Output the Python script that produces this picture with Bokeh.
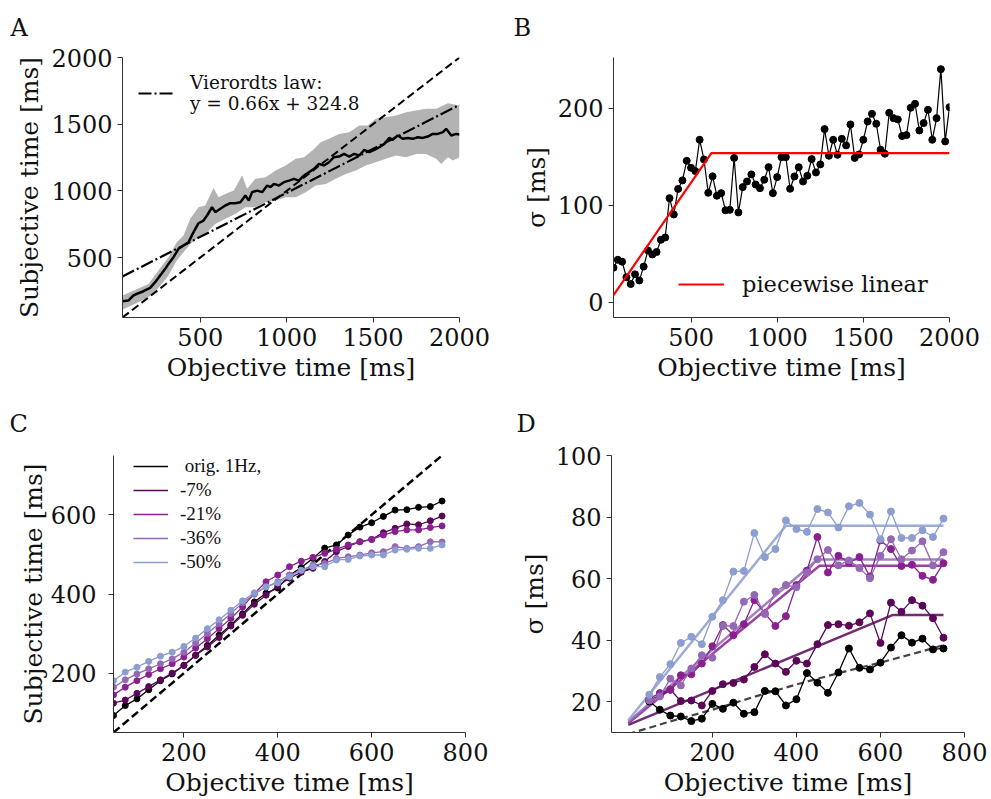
from bokeh.plotting import figure
from bokeh.layouts import column, row
from bokeh.models import Legend, LegendItem, FixedTicker, Range1d
from bokeh.core.properties import value
from bokeh.embed import file_html
from bokeh.resources import INLINE

# ---------------- data ----------------
# Panel A: mean subjective time with spread band
A_x = [50, 84, 113, 142, 171, 210, 239, 268, 297, 316, 345, 374, 403, 432, 461, 490, 519, 539, 568, 587,
       616, 645, 674, 703, 732, 761, 781, 800, 829, 858, 887, 907, 926, 955, 984, 1013, 1042, 1071, 1100, 1129,
       1158, 1187, 1216, 1245, 1274, 1303, 1332, 1362, 1391, 1420, 1449, 1478, 1507, 1536, 1565, 1594, 1613,
       1642, 1671, 1700, 1729, 1758, 1787, 1816, 1845, 1875, 1904, 1923, 1952, 1981, 2000]
A_y = [172, 177, 215, 232, 247, 272, 315, 365, 415, 452, 502, 565, 590, 615, 690, 757, 777, 815, 877, 840,
       865, 890, 907, 907, 915, 965, 927, 990, 1002, 990, 1040, 1027, 1052, 1040, 1065, 1077, 1090, 1077, 1115, 1140,
       1165, 1202, 1190, 1215, 1252, 1257, 1277, 1257, 1277, 1265, 1307, 1290, 1307, 1327, 1352, 1397, 1382,
       1415, 1390, 1397, 1390, 1402, 1397, 1407, 1427, 1427, 1440, 1465, 1415, 1427, 1422]
A_up_x = [50, 122, 200, 258, 316, 364, 403, 442, 490, 529, 577, 606, 645, 694, 742, 771, 819, 878, 936, 994,
          1052, 1100, 1149, 1197, 1245, 1303, 1362, 1420, 1468, 1516, 1574, 1633, 1691, 1749, 1807, 1865, 1933, 2000]
A_up_y = [215, 257, 302, 402, 502, 615, 665, 790, 877, 890, 1022, 952, 977, 1002, 1115, 1015, 1090, 1102, 1152, 1190,
          1240, 1252, 1302, 1365, 1390, 1427, 1440, 1490, 1490, 1540, 1552, 1565, 1590, 1602, 1615, 1615, 1657, 1640]
A_lo_x = [50, 122, 200, 258, 316, 364, 403, 442, 490, 539, 587, 645, 703, 761, 819, 878, 936, 994, 1052, 1110,
          1168, 1226, 1284, 1342, 1400, 1458, 1516, 1574, 1633, 1691, 1749, 1807, 1865, 1894, 1933, 1962, 2000]
A_lo_y = [110, 152, 202, 272, 365, 477, 540, 602, 652, 690, 752, 790, 827, 877, 877, 915, 927, 952, 952, 990,
          1040, 1052, 1090, 1127, 1152, 1190, 1215, 1240, 1265, 1252, 1277, 1277, 1240, 1202, 1252, 1227, 1252]
A_ident = [50, 2000]
A_vier_x = [50, 2000]
vier_slope, vier_icpt = 0.66, 324.8

# Panel B: sigma vs objective time
B_x = list(range(50, 2001, 25))
B_y = [35.8, 44, 42, 26, 19, 29, 22.7, 37, 53.6, 49.5, 52, 64.6, 67, 107.5, 90.7, 117, 125.8, 146, 138.8, 135.4,
       167.7, 147.4, 113, 130, 110, 112.7, 95, 95.5, 149,
       92.8, 118.9, 124.7, 132, 121.6, 117.8, 126.5, 139.5, 112.7, 129.2, 149.8, 149.8, 117.2, 129.9, 139.5,
       124.7, 130.6, 147.8, 134, 142.3, 178.7, 151.2, 167.7, 152.2, 168.7, 161.9,
       183.5, 149, 152.6, 167.7, 186.6, 194.5, 184.2, 157.4, 153.3, 195.5, 190, 188.7, 171.5, 172.5, 200.7,
       204.8, 177.3, 184.9, 198.6, 167.7, 190, 240.5, 166, 201.3]
B_fit_x = [50, 618, 2000]
B_fit_y = [7.5, 154, 154]

# Panel C: subjective time for tempo-changed versions
C_x = list(range(50, 751, 25))
C_labels = ["\u00a0orig. 1Hz,", "-7%", "-21%", "-36%", "-50%"]
C_colors = ["#000000", "#5a0757", "#8a2090", "#9468b4", "#8c9dcf"]
C_orig = [93, 118, 135, 158, 181, 198, 220, 245, 270, 296, 322, 350, 380, 402, 415, 447, 467, 490, 516, 524,
          549, 569, 580, 596, 612, 613, 619, 621, 635]
C_m7 = [124, 132, 149, 166, 183, 200, 219, 245, 266, 290, 319, 346, 374, 397, 420, 440, 455, 465, 482, 507,
        520, 532, 538, 555, 566, 577, 575, 585, 597]
C_m21 = [145, 164.5, 181, 196.6, 211, 223.7, 240.6, 263, 287, 312.5, 338, 367.4, 401, 431, 448, 469, 483, 492.6,
         502.7, 513, 524, 532, 538, 549, 557.7, 562, 562, 568, 572]
C_m36 = [164.5, 183, 198, 211, 223.7, 236, 253, 276, 300, 325, 350.5, 377.6, 399.6, 418, 431, 448, 460, 473, 477,
         490, 494, 498.5, 504, 507, 519.7, 515, 519.7, 532, 531.5]
C_m50 = [181, 202.5, 215, 229.6, 243, 253, 267.6, 288.8, 312.5, 335, 359, 382.7, 403, 418, 428, 443.5, 460, 469,
         469, 486, 487.5, 496, 498.5, 498.5, 511, 513, 515.4, 515.4, 524]
C_ident = [50, 750]

# Panel D: sigma for tempo-changed versions, with fits
D_x = list(range(50, 751, 25))
D_orig = [20.1, 17.4, 15.5, 15.2, 13.7, 14.5, 19.3, 17.7, 19.7, 16.1, 16.6, 23.5, 23.4, 18.8, 20.8, 29.3, 26.2,
          22.9, 29.5, 37.3, 31, 30.5, 32.7, 37.6, 41.6, 39.2, 40.5, 37, 37.3]
D_m7 = [20.5, 22, 23.9, 20.2, 20.4, 18.8, 23.5, 25.7, 26.1, 27.2, 31.3, 35.4, 32.4, 29.7, 33.3, 32.4, 38.7, 44.9,
        45.2, 44.7, 45.8, 48.7, 39.1, 52.2, 49.2, 53, 51.2, 47.1, 40.8]
D_m21 = [21, 22.8, 23.9, 28.6, 28.9, 32.4, 38, 44.9, 41.6, 45.2, 53, 48.7, 44.6, 47.8, 57.9, 62.6, 73.5, 62, 67.4,
         65.2, 67, 60.7, 72.4, 69.6, 64.1, 64.5, 60.9, 59.6, 65]
D_m36 = [20.4, 21.7, 27.5, 25.3, 30.8, 35.1, 34.3, 44.6, 44.6, 52.5, 54.7, 48.5, 55.8, 57.9, 57.2, 62, 66.3, 69.3,
         64.3, 65.9, 63.4, 60.1, 67.4, 72.8, 66.3, 69.1, 72.1, 64.3, 68.6]
D_m50 = [22.3, 28, 32.2, 39.1, 41.1, 38.7, 47.6, 53, 62.3, 62.5, 74.8, 67, 69.6, 78.9, 76.1, 75.2, 82.6, 81.5,
         76.6, 83.5, 84.6, 80.8, 72.8, 81.8, 73.2, 73.2, 75.7, 73.5, 79.5]
D_fit_orig_x = [0, 100, 200, 300, 400, 500, 600, 700, 750]
D_fit_orig_y = [9.5, 13.6, 17.4, 21.6, 25.6, 29.3, 32.7, 36.4, 38.4]
D_fit_m7_x, D_fit_m7_y = [0, 630, 750], [12.5, 48.2, 48.2]
D_fit_m21_x, D_fit_m21_y = [0, 455, 750], [13.0, 64.2, 64.2]
D_fit_m36_x, D_fit_m36_y = [0, 450, 750], [13.5, 66.2, 66.2]
D_fit_m50_x, D_fit_m50_y = [0, 375, 750], [14.0, 77.2, 77.2]

# panel letters
top_letters = ["A", "B"]
bottom_letters = ["C", "D"]

# ---------------- styling helpers ----------------
SERIF = "DejaVu Serif"
INK = "#111111"
SPINE = "#333333"


def make_fig(w, h, left, right, top, bottom, xr, yr):
    p = figure(width=w, height=h, min_border_left=left, min_border_right=right,
               min_border_top=top, min_border_bottom=bottom,
               x_range=Range1d(*xr), y_range=Range1d(*yr), title=None,
               output_backend="svg", toolbar_location=None)
    p.outline_line_color = None
    p.grid.visible = False
    p.background_fill_color = "white"
    p.border_fill_color = "white"
    return p


def make_strip(h, letters, lx, ly):
    s = figure(width=991, height=h, x_range=Range1d(0, 991), y_range=Range1d(0, h),
               min_border=0, title=None, x_axis_location=None, y_axis_location=None,
               output_backend="svg", toolbar_location=None)
    s.outline_line_color = None
    s.grid.visible = False
    s.border_fill_color = "white"
    s.text(x=lx, y=ly, text=letters, text_font=value(SERIF), text_font_size="24px",
           text_color=INK, text_baseline="alphabetic", text_align="left")
    return s


def style_axes(p, xt, yt, xlabel, ylabel, ystandoff=5, ylabstandoff=4):
    for ax in (p.xaxis[0], p.yaxis[0]):
        ax.axis_line_color = SPINE
        ax.axis_line_width = 1
        ax.major_tick_line_color = SPINE
        ax.major_tick_out = 5
        ax.major_tick_in = 0
        ax.minor_tick_line_color = None
        ax.major_label_text_font = SERIF
        ax.major_label_text_font_size = "24px"
        ax.major_label_text_color = INK
        ax.major_label_standoff = 5
        ax.axis_label_text_font = SERIF
        ax.axis_label_text_font_size = "25px"
        ax.axis_label_text_font_style = "normal"
        ax.axis_label_text_color = INK
        ax.axis_label_standoff = 4
    p.yaxis.major_label_standoff = ystandoff
    p.yaxis.axis_label_standoff = ylabstandoff
    p.xaxis.ticker = FixedTicker(ticks=xt)
    p.yaxis.ticker = FixedTicker(ticks=yt)
    p.xaxis.axis_label = xlabel
    p.yaxis.axis_label = ylabel


# ---------------- letter strips ----------------
stripTop = make_strip(43, top_letters, [10, 513], [16, 16])
stripMid = make_strip(40, bottom_letters, [9, 516], [17, 17])

# ---------------- Panel A ----------------
pA = make_fig(490, 357, 122, 31, 14, 83, (50, 2000), (50, 2000))
band_x = A_up_x + A_lo_x[::-1]
band_y = A_up_y + A_lo_y[::-1]
pA.patch(band_x, band_y, fill_color="#b3b3b3", line_color=None)
pA.line(A_ident, A_ident, line_color="black", line_width=2, line_dash="8 4")
vier_y = [vier_slope * v + vier_icpt for v in A_vier_x]
r_vier = pA.line(A_vier_x, vier_y, line_color="black", line_width=2.2, line_dash="13 3 2 3")
pA.line(A_x, A_y, line_color="black", line_width=2.5)
legA = Legend(items=[LegendItem(label="Vierordts law:\ny = 0.66x + 324.8", renderers=[r_vier])],
              location=(16, 203), border_line_color=None, background_fill_alpha=0,
              padding=0, margin=0, glyph_width=37, glyph_height=40, label_height=40,
              label_standoff=15, label_text_font=SERIF, label_text_font_size="18.5px",
              label_text_color=INK, label_text_line_height=1.1)
pA.add_layout(legA)
style_axes(pA, [500, 1000, 1500, 2000], [500, 1000, 1500, 2000], "Objective time [ms]", "Subjective time [ms]")

# ---------------- Panel B ----------------
pB = make_fig(501, 357, 123, 42, 14, 83, (50, 2000), (-15.5, 252.5))
pB.line(B_x, B_y, line_color="black", line_width=1.2)
pB.scatter(B_x, B_y, size=7, fill_color="black", line_color="black")
r_fit = pB.line(B_fit_x, B_fit_y, line_color="#ff0000", line_width=2.2)
legB = Legend(items=[LegendItem(label="piecewise linear", renderers=[r_fit])],
              location=(65, 20), border_line_color=None, background_fill_alpha=0,
              padding=0, margin=0, glyph_width=46, glyph_height=26, label_height=26,
              label_standoff=18, label_text_font=SERIF, label_text_font_size="22.5px",
              label_text_color=INK)
pB.add_layout(legB)
style_axes(pB, [500, 1000, 1500, 2000], [0, 100, 200], "Objective time [ms]", "σ [ms]")

# ---------------- Panel C ----------------
pC = make_fig(490, 359, 113, 25, 15, 67, (50, 800), (50, 750))
pC.line(C_ident, C_ident, line_color="black", line_width=2.5, line_dash="8 4")
C_series = [C_orig, C_m7, C_m21, C_m36, C_m50]
itemsC = []
for lab, col, ys in zip(C_labels, C_colors, C_series):
    r = pC.line(C_x, ys, line_color=col, line_width=1.3)
    pC.scatter(C_x, ys, size=6, fill_color=col, line_color=col)
    itemsC.append(LegendItem(label=lab, renderers=[r]))
legC = Legend(items=itemsC, location=(20, 159), border_line_color=None, background_fill_alpha=0,
              padding=0, margin=0, glyph_width=35, glyph_height=18, label_height=18, spacing=2,
              label_standoff=12, label_text_font="Liberation Serif", label_text_font_size="19px",
              label_text_color=INK)
pC.add_layout(legC)
style_axes(pC, [200, 400, 600, 800], [200, 400, 600], "Objective time [ms]", "Subjective time [ms]",
           ystandoff=12, ylabstandoff=0)

# ---------------- Panel D ----------------
pD = make_fig(501, 359, 121, 27, 15, 67, (-40, 800), (10, 100))
D_series = [D_orig, D_m7, D_m21, D_m36, D_m50]
D_fits = [(D_fit_m7_x, D_fit_m7_y), (D_fit_m21_x, D_fit_m21_y), (D_fit_m36_x, D_fit_m36_y),
          (D_fit_m50_x, D_fit_m50_y)]
pD.line(D_fit_orig_x, D_fit_orig_y, line_color="#444444", line_width=2.2, line_dash="7 4")
for col, (fx, fy) in zip(C_colors[1:], D_fits):
    pD.line(fx, fy, line_color=col, line_width=2.5, line_alpha=0.85)
for col, ys in zip(C_colors, D_series):
    pD.line(D_x, ys, line_color=col, line_width=1.3)
    pD.scatter(D_x, ys, size=7, fill_color=col, line_color=col)
style_axes(pD, [200, 400, 600, 800], [20, 40, 60, 80, 100], "Objective time [ms]", "σ [ms]")

layout = column(stripTop, row(pA, pB), stripMid, row(pC, pD))
open("out.html", "w").write(file_html(layout, INLINE))
